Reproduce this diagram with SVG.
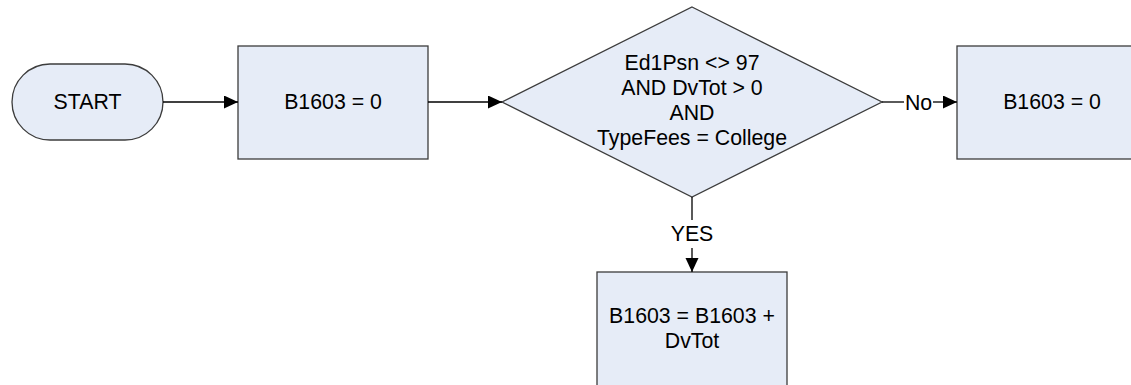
<svg xmlns="http://www.w3.org/2000/svg" width="1131" height="385" viewBox="0 0 1131 385">
<style>
.shape{fill:#E6ECF7;stroke:#3C3C3C;stroke-width:1.3}
.lbl{font-family:"Liberation Sans",Arial,sans-serif;font-size:21.3px;fill:#000;text-anchor:middle}
.conn{stroke:#000;stroke-width:1.3;fill:none}
</style>
<defs>
<marker id="arr" markerUnits="userSpaceOnUse" markerWidth="15" markerHeight="14" refX="14" refY="6.5" orient="auto">
<path d="M0,0 L14,6.5 L0,13 Z" fill="#000"/>
</marker>
</defs>
<rect width="1131" height="385" fill="#fff"/>
<g id="start">
<rect class="shape" x="12" y="64" width="151" height="76" rx="38" ry="38"/>
<text class="lbl" x="87.5" y="109">START</text>
</g>
<g id="init">
<rect class="shape" x="238" y="46" width="190" height="113"/>
<text class="lbl" x="333" y="109">B1603 = 0</text>
</g>
<g id="decision">
<polygon class="shape" points="692,7 882,102 692,197 502,102"/>
<text class="lbl" x="692" y="70">Ed1Psn &lt;&gt; 97</text>
<text class="lbl" x="692" y="95">AND DvTot &gt; 0</text>
<text class="lbl" x="692" y="120">AND</text>
<text class="lbl" x="692" y="145">TypeFees = College</text>
</g>
<g id="no-box">
<rect class="shape" x="957" y="46" width="190" height="113"/>
<text class="lbl" x="1052" y="109">B1603 = 0</text>
</g>
<g id="yes-box">
<rect class="shape" x="597" y="272" width="190" height="130"/>
<text class="lbl" x="692" y="322.7">B1603 = B1603 +</text>
<text class="lbl" x="692" y="347.7">DvTot</text>
</g>
<g id="connectors">
<line class="conn" x1="163" y1="102" x2="238" y2="102" marker-end="url(#arr)"/>
<line class="conn" x1="428" y1="102" x2="502" y2="102" marker-end="url(#arr)"/>
<line class="conn" x1="882" y1="102" x2="904" y2="102"/>
<line class="conn" x1="933" y1="102" x2="957" y2="102" marker-end="url(#arr)"/>
<text class="lbl" x="918.5" y="109.5">No</text>
<line class="conn" x1="692" y1="197" x2="692" y2="220"/>
<line class="conn" x1="692" y1="248" x2="692" y2="272" marker-end="url(#arr)"/>
<text class="lbl" x="692" y="241">YES</text>
</g>
</svg>
